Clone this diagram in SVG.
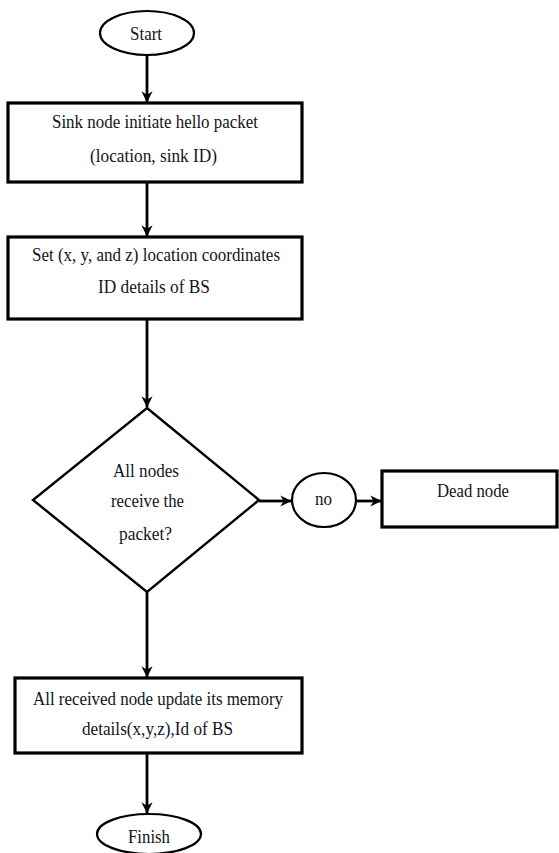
<svg xmlns="http://www.w3.org/2000/svg" width="559" height="853" viewBox="0 0 559 853">
<style>
.box{fill:#fff;stroke:#000;stroke-width:3.2}
.term{fill:#fff;stroke:#000;stroke-width:2.2}
.dia{fill:#fff;stroke:#000;stroke-width:2.4}
.t{font-family:"Liberation Serif",serif;font-size:18px;fill:#141420;text-anchor:middle}
.c{fill:none;stroke:#000;stroke-width:2.8}
</style>
<defs>
<marker id="ah" viewBox="0 0 10 10" refX="9.5" refY="5" markerWidth="4" markerHeight="4" orient="auto" markerUnits="strokeWidth">
<path d="M0,0 L10,5 L0,10 L3,5 Z" fill="#000"/>
</marker>
</defs>
<rect width="559" height="853" fill="#fff"/>
<g id="connectors">
<line class="c" x1="147" y1="55" x2="147" y2="102" marker-end="url(#ah)"/>
<line class="c" x1="147" y1="183" x2="147" y2="236" marker-end="url(#ah)"/>
<line class="c" x1="147" y1="320" x2="147" y2="407" marker-end="url(#ah)"/>
<line class="c" x1="147" y1="592" x2="147" y2="677" marker-end="url(#ah)"/>
<line class="c" x1="147" y1="754" x2="147" y2="813" marker-end="url(#ah)"/>
<line class="c" x1="259" y1="501" x2="291" y2="501" marker-end="url(#ah)"/>
<line class="c" x1="357" y1="501" x2="381" y2="501" marker-end="url(#ah)"/>
</g>
<g id="start">
<ellipse class="term" cx="147" cy="33" rx="47" ry="22"/>
<text class="t" x="146" y="40" textLength="32" lengthAdjust="spacingAndGlyphs">Start</text>
</g>
<g id="hello">
<rect class="box" x="8" y="103" width="294" height="79"/>
<text class="t" x="155" y="128" textLength="206" lengthAdjust="spacingAndGlyphs">Sink node initiate hello packet</text>
<text class="t" x="153.5" y="162" textLength="127" lengthAdjust="spacingAndGlyphs">(location, sink ID)</text>
</g>
<g id="setloc">
<rect class="box" x="8" y="237" width="294" height="82"/>
<text class="t" x="156" y="261" textLength="248" lengthAdjust="spacingAndGlyphs">Set (x, y, and z) location coordinates</text>
<text class="t" x="154" y="293" textLength="112" lengthAdjust="spacingAndGlyphs">ID details of BS</text>
</g>
<g id="decision">
<polygon class="dia" points="147,408 259,500 147,592 33,500"/>
<text class="t" x="146" y="477" textLength="66" lengthAdjust="spacingAndGlyphs">All nodes</text>
<text class="t" x="147.5" y="507" textLength="73" lengthAdjust="spacingAndGlyphs">receive the</text>
<text class="t" x="145.5" y="540" textLength="53" lengthAdjust="spacingAndGlyphs">packet?</text>
</g>
<g id="no">
<ellipse class="term" cx="324" cy="500" rx="32" ry="27"/>
<text class="t" x="323.5" y="505" textLength="17" lengthAdjust="spacingAndGlyphs">no</text>
</g>
<g id="dead">
<rect class="box" x="382" y="471" width="175" height="56"/>
<text class="t" x="473" y="497" textLength="72" lengthAdjust="spacingAndGlyphs">Dead node</text>
</g>
<g id="update">
<rect class="box" x="15" y="678" width="287" height="75"/>
<text class="t" x="158" y="705" textLength="250" lengthAdjust="spacingAndGlyphs">All received node update its memory</text>
<text class="t" x="157.5" y="735" textLength="151" lengthAdjust="spacingAndGlyphs">details(x,y,z),Id of BS</text>
</g>
<g id="finish">
<ellipse class="term" cx="149" cy="834" rx="52" ry="20"/>
<text class="t" x="149" y="843" textLength="42" lengthAdjust="spacingAndGlyphs">Finish</text>
</g>
</svg>
